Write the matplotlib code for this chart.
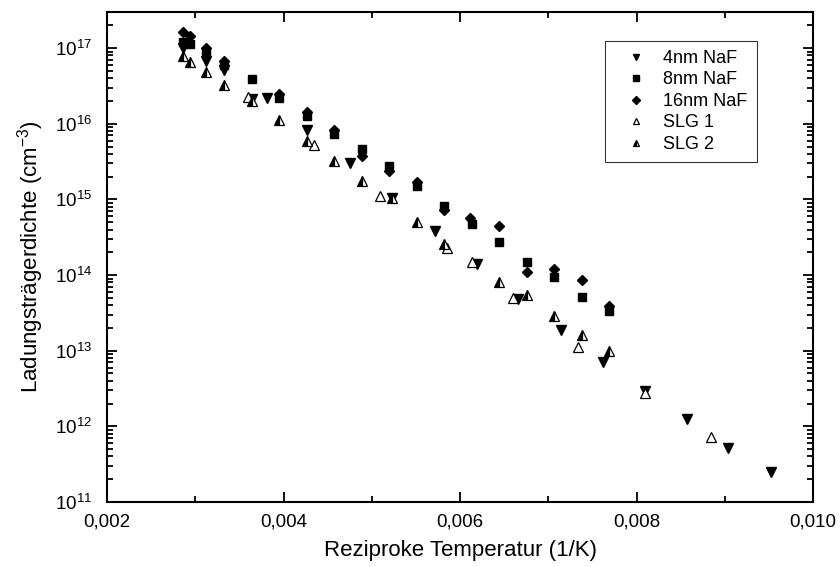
import numpy as np
import matplotlib
matplotlib.use("Agg")
import matplotlib.pyplot as plt
from matplotlib.ticker import FuncFormatter, MultipleLocator, LogLocator

plt.rcParams['font.family'] = ['Liberation Sans', 'DejaVu Sans']
plt.rcParams['mathtext.fontset'] = 'custom'
plt.rcParams['mathtext.rm'] = 'Liberation Sans'
plt.rcParams['mathtext.it'] = 'Liberation Sans:italic'

# ---------------- Daten ----------------
x_4nm = [0.00286, 0.00312, 0.00333, 0.00364, 0.00381, 0.00427, 0.00475, 0.00523, 0.00572,
         0.00619, 0.00666, 0.00714, 0.00762, 0.00810, 0.00857, 0.00904, 0.00952]
n_4nm = [1.0e17, 6.7e16, 5.1e16, 2.1e16, 2.2e16, 8.2e15, 3.0e15, 1.03e15, 3.8e14,
         1.38e14, 4.9e13, 1.9e13, 7.2e12, 2.9e12, 1.26e12, 5.2e11, 2.5e11]

x_8nm = [0.00286, 0.00294, 0.00312, 0.00333, 0.00364, 0.00395, 0.00427, 0.00457, 0.00489,
         0.00520, 0.00551, 0.00582, 0.00614, 0.00644, 0.00676, 0.00707, 0.00738, 0.00769]
n_8nm = [1.2e17, 1.13e17, 8.6e16, 6.0e16, 3.9e16, 2.2e16, 1.26e16, 7.3e15, 4.6e15,
         2.74e15, 1.49e15, 8.3e14, 4.8e14, 2.7e14, 1.51e14, 9.5e13, 5.2e13, 3.3e13]

x_16nm = [0.00286, 0.00294, 0.00312, 0.00333, 0.00395, 0.00427, 0.00457, 0.00489, 0.00520,
          0.00551, 0.00582, 0.00611, 0.00644, 0.00676, 0.00707, 0.00738, 0.00769]
n_16nm = [1.63e17, 1.44e17, 1.0e17, 6.7e16, 2.46e16, 1.42e16, 8.2e15, 3.8e15, 2.35e15,
          1.68e15, 7.2e14, 5.6e14, 4.4e14, 1.11e14, 1.22e14, 8.7e13, 3.95e13]

x_slg1 = [0.00360, 0.00435, 0.00509, 0.00585, 0.00614, 0.00660, 0.00734, 0.00810, 0.00884]
n_slg1 = [2.24e16, 5.2e15, 1.1e15, 2.3e14, 1.47e14, 5.0e13, 1.13e13, 2.8e12, 7.3e11]

x_slg2 = [0.00286, 0.00294, 0.00312, 0.00333, 0.00364, 0.00395, 0.00427, 0.00457, 0.00489,
          0.00523, 0.00551, 0.00582, 0.00644, 0.00676, 0.00707, 0.00738, 0.00769]
n_slg2 = [7.8e16, 6.5e16, 4.8e16, 3.3e16, 2.0e16, 1.11e16, 6.0e15, 3.2e15, 1.73e15,
          1.03e15, 5.0e14, 2.6e14, 8.0e13, 5.5e13, 2.9e13, 1.63e13, 1.0e13]
# ---------------------------------------------------

fig = plt.figure(figsize=(8.4, 5.67), dpi=100)
ax = fig.add_axes([0.1274, 0.1146, 0.8405, 0.8642])

ax.plot(x_4nm, n_4nm, ls='none', marker='v', ms=6.5, color='black', label='4nm NaF')
ax.plot(x_8nm, n_8nm, ls='none', marker='s', ms=5.5, color='black', label='8nm NaF')
ax.plot(x_16nm, n_16nm, ls='none', marker='D', ms=5, color='black', label='16nm NaF')
ax.plot(x_slg1, n_slg1, ls='none', marker='^', ms=6.5, color='black', mfc='white',
        mew=0.9, label='SLG 1')
ax.plot(x_slg2, n_slg2, ls='none', marker='^', ms=6.5, color='black', fillstyle='left',
        markerfacecoloralt='white', mew=0.9, label='SLG 2')

ax.set_yscale('log')
ax.set_xlim(0.002, 0.010)
ax.set_ylim(1e11, 3e17)

ax.xaxis.set_major_locator(MultipleLocator(0.002))
ax.xaxis.set_minor_locator(MultipleLocator(0.001))
ax.xaxis.set_major_formatter(FuncFormatter(lambda v, p: f"{v:.3f}".replace('.', ',')))
ax.yaxis.set_major_locator(LogLocator(base=10, numticks=20))
ax.yaxis.set_minor_locator(LogLocator(base=10, subs=np.arange(2, 10), numticks=20))

ax.tick_params(which='both', direction='in', top=True, right=True, width=1.3, labelsize=13.5)
ax.tick_params(which='major', length=7)
ax.tick_params(which='minor', length=4)
ax.tick_params(axis='x', pad=8)
ax.tick_params(axis='y', pad=11)
for s in ax.spines.values():
    s.set_linewidth(1.5)

ax.set_xlabel("Reziproke Temperatur (1/K)", fontsize=16, labelpad=7)
ax.set_ylabel("Ladungsträgerdichte (cm$^{-3}$)", fontsize=16, labelpad=6)

leg = ax.legend(loc='upper left', bbox_to_anchor=(0.705, 0.941), borderaxespad=0,
                fontsize=13, frameon=True, fancybox=False, edgecolor='black',
                handlelength=2.5, handletextpad=0.25, labelspacing=0.25,
                borderpad=0.5, markerscale=0.75)
leg.get_frame().set_linewidth(0.8)

plt.savefig("out.png", dpi=100)
